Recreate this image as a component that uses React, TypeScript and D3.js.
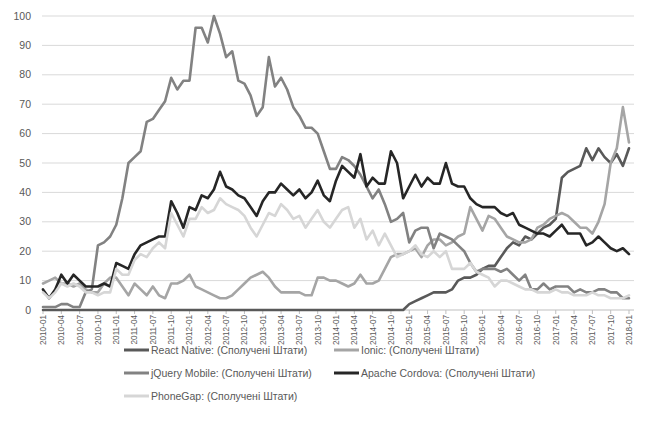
import React from "react";
import * as d3 from "d3";

const startYear = 2010;
const months: string[] = d3.range(97).map((i) => {
  const y = startYear + Math.floor(i / 12);
  const m = (i % 12) + 1;
  return `${y}-${m < 10 ? "0" + m : m}`;
});

const yTicks = [0, 10, 20, 30, 40, 50, 60, 70, 80, 90, 100];

const reactNative = [
  ...new Array(60).fill(0),
  2, 3, 4, 5, 6, 6, 6, 7, 10, 11,
  11, 12, 14, 15, 15, 18, 21, 23, 22, 25,
  24, 26, 28, 29, 31, 45, 47, 48, 49, 55,
  51, 55, 52, 50, 53, 49, 55,
];

const ionic = [
  9, 10, 11, 9, 9, 8, 9, 7, 6, 6,
  9, 11, 11, 8, 5, 9, 7, 5, 8, 5,
  4, 9, 9, 10, 12, 8, 7, 6, 5, 4,
  4, 5, 7, 9, 11, 12, 13, 11, 8, 6,
  6, 6, 6, 5, 5, 11, 11, 10, 10, 9,
  8, 9, 12, 9, 9, 10, 14, 18, 19, 19,
  20, 21, 18, 22, 24, 24, 22, 23, 25, 26,
  35, 31, 27, 32, 31, 28, 25, 24, 23, 23,
  24, 28, 29, 31, 32, 33, 32, 30, 28, 28,
  26, 30, 36, 50, 55, 69, 57,
];

const jqueryMobile = [
  1, 1, 1, 2, 2, 1, 1, 6, 7, 22,
  23, 25, 29, 38, 50, 52, 54, 64, 65, 68,
  71, 79, 75, 78, 78, 96, 96, 91, 100, 94,
  86, 88, 78, 77, 73, 66, 69, 86, 76, 79,
  75, 69, 66, 62, 62, 60, 54, 48, 48, 52,
  51, 49, 46, 42, 38, 41, 36, 30, 31, 33,
  23, 27, 28, 28, 21, 26, 25, 24, 22, 20,
  16, 13, 14, 14, 14, 13, 14, 12, 10, 12,
  7, 7, 9, 7, 8, 8, 8, 6, 7, 6,
  6, 7, 7, 6, 6, 4, 4,
];

const apacheCordova = [
  7, 4, 7, 12, 9, 12, 10, 8, 8, 8,
  9, 8, 16, 15, 14, 19, 22, 23, 24, 25,
  25, 37, 33, 28, 35, 34, 39, 38, 41, 47,
  42, 41, 39, 38, 35, 32, 37, 40, 40, 43,
  41, 39, 41, 38, 40, 44, 39, 37, 44, 49,
  47, 45, 53, 42, 45, 43, 43, 54, 50, 38,
  42, 46, 42, 45, 43, 43, 50, 43, 42, 42,
  38, 36, 35, 35, 35, 33, 32, 33, 29, 28,
  27, 26, 26, 25, 27, 29, 26, 26, 26, 22,
  23, 25, 23, 21, 20, 21, 19,
];

const phoneGap = [
  6, 4, 6, 9, 8, 9, 8, 6, 6, 5,
  6, 6, 14, 12, 12, 17, 19, 18, 21, 23,
  21, 33, 29, 25, 31, 31, 35, 33, 34, 38,
  36, 35, 34, 32, 28, 25, 29, 33, 32, 36,
  34, 31, 32, 28, 31, 34, 30, 28, 31, 34,
  35, 28, 31, 24, 27, 22, 26, 22, 18, 19,
  20, 22, 19, 18, 20, 18, 20, 14, 14, 14,
  16, 13, 12, 11, 8, 10, 10, 9, 8, 7,
  7, 6, 6, 6, 7, 6, 6, 5, 5, 5,
  6, 5, 5, 4, 4, 4, 5,
];

const seriesNames = [
  "React Native: (Сполучені Штати)",
  "Ionic: (Сполучені Штати)",
  "jQuery Mobile: (Сполучені Штати)",
  "Apache Cordova: (Сполучені Штати)",
  "PhoneGap: (Сполучені Штати)",
];
const seriesData = [reactNative, ionic, jqueryMobile, apacheCordova, phoneGap];
const seriesColors = ["#595959", "#a5a5a5", "#828282", "#262626", "#d6d6d6"];

const W = 646;
const H = 428;
const FONT = "'Liberation Sans', Arial, sans-serif";

export default function App() {
  const x = d3.scalePoint<string>().domain(months).range([43, 629]);
  const y = d3.scaleLinear().domain([0, 100]).range([310, 16]);
  const line = d3
    .line<number>()
    .x((_, i) => x(months[i]) as number)
    .y((d) => y(d));

  const tickMonths = months.filter((_, i) => i % 3 === 0);

  const legendPos = [
    { lx: 124, ly: 350 },
    { lx: 334, ly: 350 },
    { lx: 124, ly: 373 },
    { lx: 334, ly: 373 },
    { lx: 124, ly: 396 },
  ];

  return (
    <svg
      width={W}
      height={H}
      style={{ position: "absolute", left: 0, top: 0, background: "#fff" }}
      fontFamily={FONT}
    >
      <rect x={0} y={0} width={W} height={H} fill="#fff" />
      {yTicks.map((t) => (
        <g key={t}>
          <line
            x1={42}
            x2={634}
            y1={y(t)}
            y2={y(t)}
            stroke={t === 0 ? "#bfbfbf" : "#d9d9d9"}
            strokeWidth={1}
          />
          <text
            x={31}
            y={y(t)}
            dy="0.35em"
            textAnchor="end"
            fontSize={10.5}
            fill="#595959"
          >
            {t}
          </text>
        </g>
      ))}
      {tickMonths.map((m) => (
        <g key={m}>
          <line
            x1={x(m)}
            x2={x(m)}
            y1={310}
            y2={314}
            stroke="#bfbfbf"
            strokeWidth={1}
          />
          <text
            transform={`translate(${x(m)},${315}) rotate(-90)`}
            dy="0.35em"
            textAnchor="end"
            fontSize={8.2}
            fill="#595959"
          >
            {m}
          </text>
        </g>
      ))}
      {seriesData.map((d, k) => (
        <path
          key={seriesNames[k]}
          d={line(d) || ""}
          fill="none"
          stroke={seriesColors[k]}
          strokeWidth={2.6}
          strokeLinejoin="round"
          strokeLinecap="round"
        />
      ))}
      {seriesNames.map((n, k) => (
        <g key={n}>
          <line
            x1={legendPos[k].lx}
            x2={legendPos[k].lx + 25}
            y1={legendPos[k].ly}
            y2={legendPos[k].ly}
            stroke={seriesColors[k]}
            strokeWidth={3}
          />
          <text
            x={legendPos[k].lx + 27}
            y={legendPos[k].ly}
            dy="0.35em"
            fontSize={10.5}
            fill="#595959"
          >
            {n}
          </text>
        </g>
      ))}
    </svg>
  );
}
